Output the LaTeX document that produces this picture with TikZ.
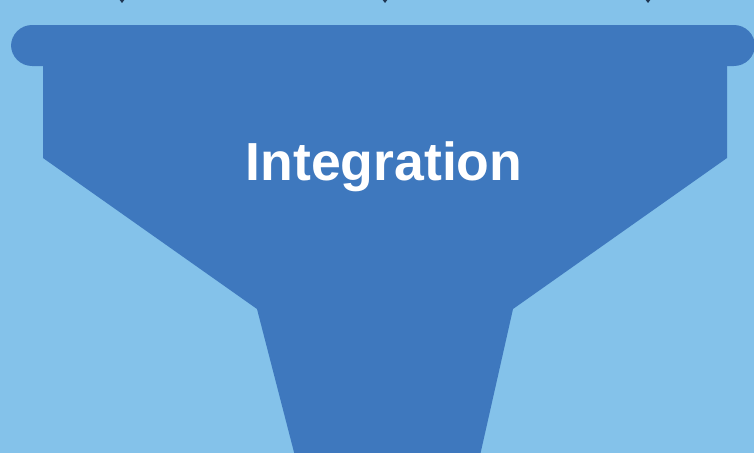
\documentclass[tikz,border=0pt]{standalone}
\usepackage{fontspec}
\setmainfont{Liberation Sans}
\usetikzlibrary{arrows.meta,positioning}
\definecolor{skyback}{HTML}{84C2EA}
\definecolor{funnelblue}{HTML}{3E78BE}
\definecolor{tipnavy}{HTML}{1E3552}
\tikzset{
    funnel/.style={fill=funnelblue, draw=none},
    feed/.style={tipnavy, line width=1pt, -{Triangle[width=6pt,length=4pt]}},
    label/.style={text=white, font=\fontsize{30.5}{34}\selectfont\bfseries}
}
\begin{document}
\begin{tikzpicture}[x=0.02cm, y=-0.02cm]
    \fill[skyback] (0,0) rectangle (754,453);
    \useasboundingbox (0,0) rectangle (754,453);

    % rim
    \fill[funnel, rounded corners=12] (11,25) rectangle (755,66);
    % body and neck
    \fill[funnel] (43,60) -- (727,60) -- (727,158) -- (513,309) -- (479,460)
        -- (296,460) -- (257,309) -- (43,158) -- cycle;

    \node[label] (title) at (384,167) {Integration};

    % feeds into the funnel, cut at the top edge
    \foreach \x/\n in {122/a,385/b,648/c}{
        \coordinate (from\n) at (\x,-30);
        \coordinate (to\n) at (\x,3);
        \draw[feed] (from\n) -- (to\n);
    }
\end{tikzpicture}
\end{document}
